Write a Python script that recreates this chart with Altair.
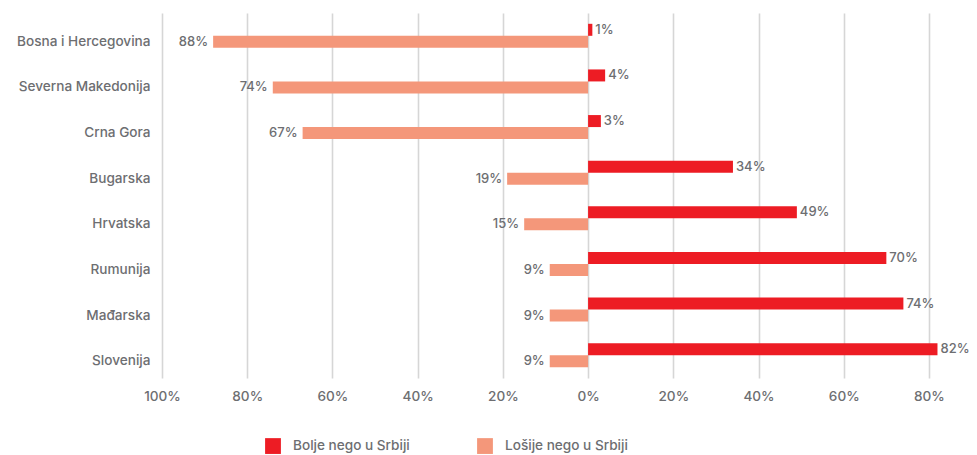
import altair as alt
import pandas as pd

countries = ["Bosna i Hercegovina", "Severna Makedonija", "Crna Gora", "Bugarska",
             "Hrvatska", "Rumunija", "Mađarska", "Slovenija"]
bolje = [1, 4, 3, 34, 49, 70, 74, 82]
losije = [88, 74, 67, 19, 15, 9, 9, 9]
series = ["Bolje nego u Srbiji", "Lošije nego u Srbiji"]
colors = ["#ED1C24", "#F4977A"]
tick_values = [-100, -80, -60, -40, -20, 0, 20, 40, 60, 80]

FONT = "Inter"
GRAY = "#6D6E71"
FS = 13.6
FW = 500

rows = []
for c, b, l in zip(countries, bolje, losije):
    rows.append({"country": c, "series": series[0], "value": b, "label": f"{b}%"})
    rows.append({"country": c, "series": series[1], "value": -l, "label": f"{l}%"})
df = pd.DataFrame(rows)

y_enc = alt.Y("country:N", sort=countries,
              scale=alt.Scale(paddingInner=0.474, paddingOuter=0.237),
              axis=alt.Axis(title=None, ticks=False, domain=False, labelPadding=12,
                            labelOffset=6, labelFont=FONT, labelFontSize=FS,
                            labelFontWeight=FW, labelColor=GRAY, labelLimit=300))
yoff = alt.YOffset("series:N", sort=series,
                   scale=alt.Scale(paddingInner=0, paddingOuter=0))
x_enc = alt.X("value:Q", scale=alt.Scale(domain=[-100, 84], nice=False, zero=False),
              axis=alt.Axis(title=None, values=tick_values, labelExpr="abs(datum.value) + '%'",
                            grid=True, gridColor="#D6D6D6", gridWidth=1.6, ticks=False,
                            domain=False, labelPadding=11, labelFont=FONT, labelFontSize=FS,
                            labelFontWeight=FW, labelColor=GRAY, labelFlush=False,
                            labelOverlap=False))

base = alt.Chart(df)

bars = base.mark_bar(size=12).encode(
    x=x_enc,
    y=y_enc,
    yOffset=yoff,
    color=alt.Color("series:N", sort=series,
                    scale=alt.Scale(domain=series, range=colors),
                    legend=alt.Legend(orient="none", legendX=103, legendY=425,
                                      direction="horizontal", title=None,
                                      symbolType="square", symbolSize=250,
                                      symbolStrokeWidth=0, symbolOpacity=1,
                                      labelFont=FONT, labelFontSize=FS, labelFontWeight=FW,
                                      labelColor=GRAY,
                                      labelOffset=12, columnPadding=67, padding=0)),
)

pos_text = base.transform_filter(alt.datum.value >= 0).mark_text(
    align="left", baseline="middle", dx=3, font=FONT, fontSize=13, fontWeight=FW, color=GRAY
).encode(x="value:Q", y=alt.Y("country:N", sort=countries), yOffset=yoff, text="label:N")

neg_text = base.transform_filter(alt.datum.value < 0).mark_text(
    align="right", baseline="middle", dx=-5, font=FONT, fontSize=13, fontWeight=FW, color=GRAY
).encode(x="value:Q", y=alt.Y("country:N", sort=countries), yOffset=yoff, text="label:N")

chart = alt.layer(bars, pos_text, neg_text).properties(
    width=784, height=365,
    background="white",
    autosize=alt.AutoSizeParams(type="none"),
    padding={"left": 154, "top": 5, "right": 23, "bottom": 77},
).configure_view(stroke=None)

chart.save("out.html", embed_options={"renderer": "svg", "actions": False})
